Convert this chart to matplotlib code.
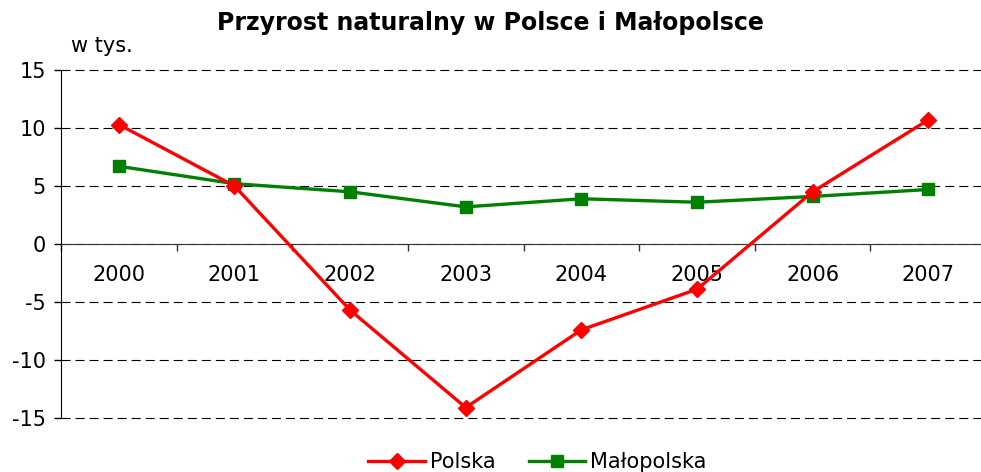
import matplotlib
matplotlib.use('Agg')
import matplotlib.pyplot as plt
import numpy as np

plt.rcParams['font.family'] = ['Verdana', 'DejaVu Sans']
plt.rcParams['lines.scale_dashes'] = False
plt.rcParams['axes.unicode_minus'] = False

# dane
lata = ['2000', '2001', '2002', '2003', '2004', '2005', '2006', '2007']
polska = [10.3, 5.0, -5.7, -14.1, -7.4, -3.9, 4.5, 10.7]
malopolska = [6.7, 5.2, 4.5, 3.2, 3.9, 3.6, 4.1, 4.7]

fig = plt.figure(figsize=(9.81, 4.72), dpi=100)
ax = fig.add_axes([0.0622, 0.1144, 0.943, 0.7373])

x = np.arange(len(lata))

# Lineas
ax.plot(x, polska, color='#FF0000', linewidth=2.4, marker='D', markersize=8,
        label='Polska', zorder=4, clip_on=False)
ax.plot(x, malopolska, color='#008000', linewidth=2.4, marker='s', markersize=8,
        label='Małopolska', zorder=3, clip_on=False)

# Ejes
ax.set_xlim(-0.5, len(lata) - 0.5)
ax.set_ylim(-15, 15)
ax.set_yticks([-15, -10, -5, 0, 5, 10, 15])
ax.tick_params(axis='y', labelsize=15, length=5, width=1, direction='out', pad=6)

ax.spines['top'].set_visible(False)
ax.spines['right'].set_visible(False)
ax.spines['bottom'].set_position(('data', 0))
ax.spines['bottom'].set_color('#333333')
ax.spines['left'].set_color('black')

ax.set_xticks(np.arange(-0.5, len(lata) - 0.4, 1.0))
ax.set_xticklabels([])
ax.set_xticks(x, minor=True)
ax.set_xticklabels(lata, minor=True)
ax.tick_params(axis='x', which='major', length=5, width=1, direction='out', color='#333333')
ax.tick_params(axis='x', which='minor', length=0, labelsize=15, pad=15)

ax.yaxis.grid(True, linestyle=(0, (6.5, 3.6)), linewidth=0.8, color='black')
for gl in ax.get_ygridlines():
    gl.set_clip_on(False)
ax.set_axisbelow(True)

# Titulo
fig.text(0.5, 0.951, 'Przyrost naturalny w Polsce i Małopolsce',
         ha='center', va='center', fontsize=17, fontweight='bold')
fig.text(0.072, 0.903, 'w tys.', ha='left', va='center', fontsize=15)

# Leyenda
fig.legend(loc='center', bbox_to_anchor=(0.548, 0.021), ncol=2, frameon=False,
           fontsize=15, handlelength=2.7, columnspacing=1.6, handletextpad=0.25)

fig.savefig('out.png', dpi=100)
